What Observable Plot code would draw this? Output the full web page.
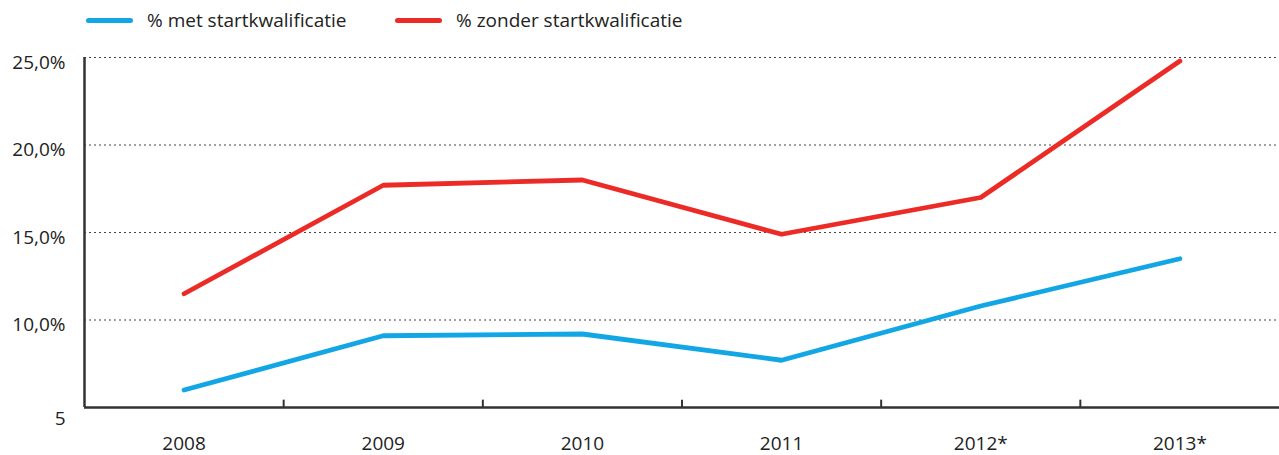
<!DOCTYPE html>
<html>
<head>
<meta charset="utf-8">
<script src="https://cdn.jsdelivr.net/npm/d3@7"></script>
<script src="https://cdn.jsdelivr.net/npm/@observablehq/plot@0.6"></script>
<style>
  html, body { margin: 0; padding: 0; background: #fff; }
  body { width: 1279px; font-family: "Open Sans", sans-serif; color: #222; }
  #legend { position: relative; height: 40px; font-size: 19px; }
  .item { position: absolute; top: 7px; display: flex; align-items: center; }
  .sw { display: inline-block; width: 47px; height: 5px; border-radius: 3px; margin-right: 14px; }
</style>
</head>
<body>
<div id="legend"></div>
<div id="chart"></div>
<script>
const years = ["2008", "2009", "2010", "2011", "2012*", "2013*"];
const metStart = [6.0, 9.1, 9.2, 7.7, 10.8, 13.5];
const zonderStart = [11.5, 17.7, 18.0, 14.9, 17.0, 24.8];
const seriesNames = ["% met startkwalificatie", "% zonder startkwalificatie"];
const seriesColors = ["#12a7e4", "#ec2a26"];
const yTicks = [5, 10, 15, 20, 25];

const data = [];
years.forEach((y, i) => {
  data.push({i, year: y, value: metStart[i], series: seriesNames[0]});
  data.push({i, year: y, value: zonderStart[i], series: seriesNames[1]});
});
const boundaries = years.slice(1).map((_, i) => i + 0.5);

const legend = document.getElementById("legend");
const legendX = [86, 395];
seriesNames.forEach((n, k) => {
  const it = document.createElement("div");
  it.className = "item";
  it.style.left = legendX[k] + "px";
  it.innerHTML = `<span class="sw" style="background:${seriesColors[k]}"></span><span>${n}</span>`;
  legend.appendChild(it);
});

const fmt = d => d === 5 ? "5" : d.toFixed(1).replace(".", ",") + "%";

const chart = Plot.plot({
  width: 1279,
  height: 415,
  marginTop: 17,
  marginBottom: 48,
  marginLeft: 84,
  marginRight: 0,
  style: {fontFamily: "Open Sans, sans-serif", fontSize: "19px", color: "#222", background: "#fff"},
  x: {domain: [-0.5, years.length - 0.5]},
  y: {domain: [5, 25]},
  color: {domain: seriesNames, range: seriesColors},
  marks: [
    Plot.ruleY(yTicks.slice(1), {stroke: "#444", strokeDasharray: "2,3", strokeWidth: 1.2}),
    Plot.axisY(yTicks.slice(1), {tickSize: 0, tickPadding: 19, tickFormat: fmt, dy: 5, label: null, fontSize: 19}),
    Plot.axisY([5], {tickSize: 0, tickPadding: 19, tickFormat: fmt, dy: 11, label: null, fontSize: 19}),
    Plot.axisX(years.map((_, i) => i), {tickSize: 0, tickPadding: 29, tickFormat: i => years[i], label: null, fontSize: 19}),
    Plot.ruleX(boundaries, {y1: 5, y2: 5.42, stroke: "#333", strokeWidth: 2}),
    Plot.ruleY([5], {stroke: "#333", strokeWidth: 2.5}),
    Plot.ruleX([-0.5], {stroke: "#333", strokeWidth: 2.5}),
    Plot.line(data, {x: "i", y: "value", z: "series", stroke: "series", strokeWidth: 4.8, strokeLinecap: "round", strokeLinejoin: "round"})
  ]
});
document.getElementById("chart").appendChild(chart);
</script>
</body>
</html>
